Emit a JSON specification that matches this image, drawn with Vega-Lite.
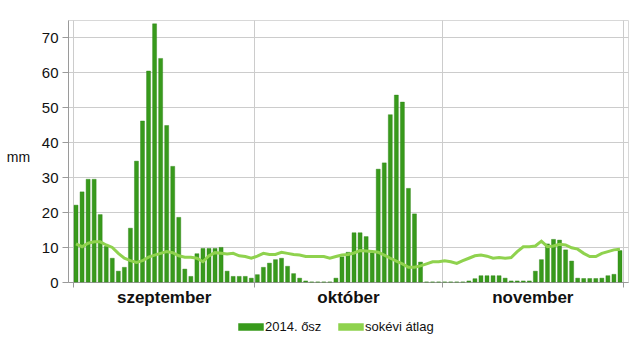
{
  "$schema": "https://vega.github.io/schema/vega-lite/v6.json",
  "autosize": "none",
  "width": 560,
  "height": 262,
  "padding": {"left": 68, "top": 20, "right": 12, "bottom": 58},
  "background": "white",
  "config": {
    "font": "Liberation Sans",
    "view": {"stroke": "#d8d8d8", "strokeWidth": 1},
    "axis": {"labelFont": "Liberation Sans", "titleFont": "Liberation Sans"},
    "axisY": {
      "title": "mm",
      "titleAngle": 0,
      "titleX": -50,
      "titleY": 137,
      "titleAlign": "center",
      "titleBaseline": "middle",
      "titleFontSize": 14,
      "titleFontWeight": "normal",
      "titleColor": "#111111",
      "labelFontSize": 15,
      "labelColor": "#111111",
      "labelPadding": 4,
      "labelOverlap": false,
      "tickSize": 6,
      "tickColor": "#9a9a9a",
      "domainColor": "#9a9a9a",
      "gridColor": "#cccccc",
      "gridWidth": 1.2
    }
  },
  "data": {
    "values": [
      {"nap": 1, "csapadek": 22, "atlag": 10.9},
      {"nap": 2, "csapadek": 25.8, "atlag": 10.1},
      {"nap": 3, "csapadek": 29.4, "atlag": 11.1},
      {"nap": 4, "csapadek": 29.4, "atlag": 11.5},
      {"nap": 5, "csapadek": 19.3, "atlag": 11.5},
      {"nap": 6, "csapadek": 10.2, "atlag": 10.6},
      {"nap": 7, "csapadek": 6.8, "atlag": 9.9},
      {"nap": 8, "csapadek": 3.1, "atlag": 8.2},
      {"nap": 9, "csapadek": 4.2, "atlag": 6.8},
      {"nap": 10, "csapadek": 15.4, "atlag": 6.1},
      {"nap": 11, "csapadek": 34.6, "atlag": 5.6},
      {"nap": 12, "csapadek": 46.1, "atlag": 6.1},
      {"nap": 13, "csapadek": 60.4, "atlag": 7.1},
      {"nap": 14, "csapadek": 73.9, "atlag": 7.7},
      {"nap": 15, "csapadek": 64, "atlag": 8.2},
      {"nap": 16, "csapadek": 44.8, "atlag": 8.7},
      {"nap": 17, "csapadek": 33.1, "atlag": 8.4},
      {"nap": 18, "csapadek": 18.5, "atlag": 7.5},
      {"nap": 19, "csapadek": 3.7, "atlag": 7.1},
      {"nap": 20, "csapadek": 1.6, "atlag": 7.1},
      {"nap": 21, "csapadek": 8.1, "atlag": 6.8},
      {"nap": 22, "csapadek": 9.6, "atlag": 5.8},
      {"nap": 23, "csapadek": 9.6, "atlag": 7.5},
      {"nap": 24, "csapadek": 9.6, "atlag": 8.4},
      {"nap": 25, "csapadek": 9.9, "atlag": 8.2},
      {"nap": 26, "csapadek": 3.1, "atlag": 8.0},
      {"nap": 27, "csapadek": 1.6, "atlag": 8.2},
      {"nap": 28, "csapadek": 1.6, "atlag": 7.5},
      {"nap": 29, "csapadek": 1.6, "atlag": 7.3},
      {"nap": 30, "csapadek": 1.1, "atlag": 6.8},
      {"nap": 31, "csapadek": 2.1, "atlag": 7.4},
      {"nap": 32, "csapadek": 4.2, "atlag": 8.2},
      {"nap": 33, "csapadek": 5.4, "atlag": 7.9},
      {"nap": 34, "csapadek": 6.4, "atlag": 7.9},
      {"nap": 35, "csapadek": 6.8, "atlag": 8.5},
      {"nap": 36, "csapadek": 4.5, "atlag": 8.2},
      {"nap": 37, "csapadek": 2.4, "atlag": 7.9},
      {"nap": 38, "csapadek": 1.1, "atlag": 7.7},
      {"nap": 39, "csapadek": 0.3, "atlag": 7.3},
      {"nap": 40, "csapadek": 0, "atlag": 7.3},
      {"nap": 41, "csapadek": 0, "atlag": 7.3},
      {"nap": 42, "csapadek": 0, "atlag": 7.3},
      {"nap": 43, "csapadek": 0, "atlag": 6.8},
      {"nap": 44, "csapadek": 1.1, "atlag": 7.3},
      {"nap": 45, "csapadek": 7.2, "atlag": 7.7},
      {"nap": 46, "csapadek": 8.5, "atlag": 7.9},
      {"nap": 47, "csapadek": 14.1, "atlag": 8.3},
      {"nap": 48, "csapadek": 14.1, "atlag": 9.0},
      {"nap": 49, "csapadek": 13.0, "atlag": 8.9},
      {"nap": 50, "csapadek": 8.3, "atlag": 8.7},
      {"nap": 51, "csapadek": 32.3, "atlag": 8.5},
      {"nap": 52, "csapadek": 34.1, "atlag": 7.7},
      {"nap": 53, "csapadek": 47.9, "atlag": 6.8},
      {"nap": 54, "csapadek": 53.5, "atlag": 6.0},
      {"nap": 55, "csapadek": 51.5, "atlag": 5.2},
      {"nap": 56, "csapadek": 26.8, "atlag": 4.2},
      {"nap": 57, "csapadek": 19.5, "atlag": 4.2},
      {"nap": 58, "csapadek": 5.7, "atlag": 4.6},
      {"nap": 59, "csapadek": 0, "atlag": 5.2},
      {"nap": 60, "csapadek": 0, "atlag": 5.8},
      {"nap": 61, "csapadek": 0, "atlag": 5.8},
      {"nap": 62, "csapadek": 0, "atlag": 6.1},
      {"nap": 63, "csapadek": 0, "atlag": 5.8},
      {"nap": 64, "csapadek": 0, "atlag": 5.3},
      {"nap": 65, "csapadek": 0, "atlag": 6.1},
      {"nap": 66, "csapadek": 0.3, "atlag": 6.8},
      {"nap": 67, "csapadek": 0.95, "atlag": 7.5},
      {"nap": 68, "csapadek": 1.8, "atlag": 7.7},
      {"nap": 69, "csapadek": 1.8, "atlag": 7.4},
      {"nap": 70, "csapadek": 1.8, "atlag": 6.8},
      {"nap": 71, "csapadek": 1.8, "atlag": 7.0},
      {"nap": 72, "csapadek": 1.1, "atlag": 6.8},
      {"nap": 73, "csapadek": 0.3, "atlag": 7.0},
      {"nap": 74, "csapadek": 0.3, "atlag": 8.7},
      {"nap": 75, "csapadek": 0.3, "atlag": 10.1},
      {"nap": 76, "csapadek": 0.3, "atlag": 10.1},
      {"nap": 77, "csapadek": 3.1, "atlag": 10.3},
      {"nap": 78, "csapadek": 6.4, "atlag": 11.7},
      {"nap": 79, "csapadek": 10.9, "atlag": 10.1},
      {"nap": 80, "csapadek": 12.2, "atlag": 10.3},
      {"nap": 81, "csapadek": 12.0, "atlag": 10.8},
      {"nap": 82, "csapadek": 9.2, "atlag": 10.6},
      {"nap": 83, "csapadek": 6.0, "atlag": 9.8},
      {"nap": 84, "csapadek": 1.1, "atlag": 9.4},
      {"nap": 85, "csapadek": 1.0, "atlag": 8.2},
      {"nap": 86, "csapadek": 1.0, "atlag": 7.3},
      {"nap": 87, "csapadek": 1.0, "atlag": 7.3},
      {"nap": 88, "csapadek": 1.1, "atlag": 8.2},
      {"nap": 89, "csapadek": 1.8, "atlag": 8.7},
      {"nap": 90, "csapadek": 2.2, "atlag": 9.2},
      {"nap": 91, "csapadek": 9.0, "atlag": 9.4}
    ]
  },
  "encoding": {
    "x": {
      "field": "nap",
      "type": "quantitative",
      "scale": {"domain": [0.5, 91.5], "nice": false, "zero": false},
      "axis": {
        "title": null,
        "values": [0.5, 15.5, 30.5, 46, 61.5, 76.5, 91.5],
        "labelExpr": "datum.value == 15.5 ? 'szeptember' : datum.value == 46 ? 'október' : datum.value == 76.5 ? 'november' : ''",
        "labelFontSize": 17,
        "labelFontWeight": "bold",
        "labelColor": "#111111",
        "labelOverlap": false,
        "labelPadding": 2,
        "labelFlush": false,
        "domainColor": "#9a9a9a",
        "tickColor": "#9a9a9a",
        "tickSize": 5,
        "tickOpacity": {"condition": {"test": "datum.value == 15.5 || datum.value == 46 || datum.value == 76.5", "value": 0}, "value": 1},
        "grid": true,
        "gridColor": "#cccccc",
        "gridOpacity": {"condition": {"test": "datum.value == 15.5 || datum.value == 46 || datum.value == 76.5", "value": 0}, "value": 1}
      }
    }
  },
  "layer": [
    {
      "mark": {"type": "bar", "size": 4, "fill": "#389a1c", "stroke": "#2b8012", "strokeWidth": 0.4, "opacity": 1},
      "encoding": {
        "y": {
          "field": "csapadek",
          "type": "quantitative",
          "scale": {"domain": [0, 75], "nice": false},
          "axis": {"title": "mm", "values": [0, 10, 20, 30, 40, 50, 60, 70]}
        },
        "color": {
          "datum": "2014. ősz",
          "type": "nominal",
          "scale": {"domain": ["2014. ősz", "sokévi átlag"], "range": ["#389a1c", "#8fd24e"]},
          "legend": {
            "title": null,
            "orient": "none",
            "direction": "horizontal",
            "legendX": 170,
            "legendY": 294,
            "labelFontSize": 13,
            "labelColor": "#111111",
            "labelOffset": 1,
            "columnPadding": 14,
            "symbolSize": 576,
            "symbolType": "M-1,-0.25H1V0.25H-1Z",
            "encode": {
              "symbols": {
                "shape": {"condition": {"test": "datum.value == 'sokévi átlag'", "value": "M-1,-0.125H1V0.125H-1Z"}, "value": "M-1,-0.25H1V0.25H-1Z"},
                "fill": {"condition": {"test": "datum.value == 'sokévi átlag'", "value": "#8fd24e"}, "value": "#389a1c"},
                "stroke": {"value": "transparent"},
                "opacity": {"value": 1},
                "fillOpacity": {"value": 1}
              }
            }
          }
        }
      }
    },
    {
      "mark": {"type": "line", "strokeWidth": 3, "interpolate": "linear"},
      "encoding": {
        "y": {
          "field": "atlag",
          "type": "quantitative",
          "axis": {"title": "mm", "values": [0, 10, 20, 30, 40, 50, 60, 70]}
        },
        "color": {"datum": "sokévi átlag", "type": "nominal"}
      }
    }
  ]
}
